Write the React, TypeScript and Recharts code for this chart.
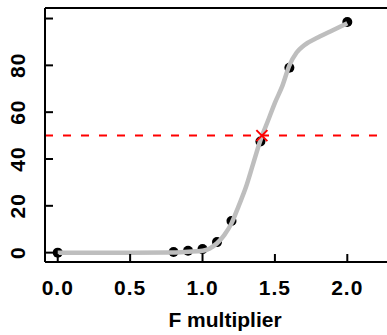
import { ComposedChart, Line, Scatter, XAxis, YAxis, ReferenceLine } from 'recharts';

// observed points (F multiplier vs %)
const obsX = [0, 0.8, 0.9, 1.0, 1.1, 1.2, 1.4, 1.6, 2.0];
const obsY = [0, 0.3, 0.8, 1.5, 4.5, 13.5, 47.5, 79, 98.5];

// fitted curve
const fitX = [0, 0.5, 0.8, 0.9, 1.0, 1.05, 1.1, 1.15, 1.2, 1.25, 1.3, 1.35, 1.4, 1.45, 1.5, 1.55, 1.6, 1.65, 1.7, 1.8, 1.9, 2.0];
const fitY = [0, 0, 0.1, 0.4, 0.8, 1.8, 4, 7.5, 12.5, 20, 28, 38, 48, 56, 64, 71, 80, 85.5, 88.5, 92, 95, 98];

const xTicks = [0, 0.5, 1, 1.5, 2];
const yTicks = [0, 20, 40, 60, 80, 100];
const yLabelled = [0, 20, 40, 60, 80];

const target = 50;
const targetX = 1.41;

const points = obsX.map((x, i) => ({ x, y: obsY[i] }));
const curve = fitX.map((x, i) => ({ x, y: fitY[i] }));
const cross = [{ x: targetX, y: target }];

const font = '"Liberation Sans", Arial, sans-serif';

const XTick = ({ x, y, payload }: any) => (
  <g>
    <line x1={x} x2={x} y1={y} y2={y - 8} stroke="#000" strokeWidth={2} />
    <text x={x} y={y + 33} textAnchor="middle" fontFamily={font} fontWeight="bold" fontSize={21} letterSpacing={1} fill="#000">
      {Number(payload.value).toFixed(1)}
    </text>
  </g>
);

const YTick = ({ x, y, payload }: any) => {
  const lx = x - 20;
  return (
    <g>
      <line x1={x} x2={x + 8} y1={y} y2={y} stroke="#000" strokeWidth={2} />
      {yLabelled.includes(payload.value) && (
        <text x={lx} y={y} transform={`rotate(-90 ${lx} ${y})`} textAnchor="middle" fontFamily={font} fontWeight="bold" fontSize={21} letterSpacing={1} fill="#000">
          {payload.value}
        </text>
      )}
    </g>
  );
};

const Dot = ({ cx, cy }: any) => <circle cx={cx} cy={cy} r={5} fill="#000" />;

const Cross = ({ cx, cy }: any) => (
  <g stroke="#ff0000" strokeWidth={2}>
    <line x1={cx - 5.5} y1={cy - 5.5} x2={cx + 5.5} y2={cy + 5.5} />
    <line x1={cx - 5.5} y1={cy + 5.5} x2={cx + 5.5} y2={cy - 5.5} />
  </g>
);

export default function App() {
  return (
    <div style={{ position: 'absolute', left: 0, top: 0, width: 387, height: 335, overflow: 'hidden', background: '#fff' }}>
      <ComposedChart width={392} height={335} margin={{ top: 8, right: 3, bottom: 0, left: 0 }}>
        <XAxis
          type="number"
          dataKey="x"
          domain={[-0.088, 2.288]}
          ticks={xTicks}
          allowDataOverflow
          height={73}
          axisLine={{ stroke: '#000', strokeWidth: 2 }}
          tickLine={false}
          tickSize={0}
          tickMargin={0}
          tick={<XTick />}
          label={{
            content: () => (
              <text x={225} y={327} textAnchor="middle" fontFamily={font} fontWeight="bold" fontSize={21} fill="#000">
                F multiplier
              </text>
            ),
          }}
        />
        <YAxis
          type="number"
          dataKey="y"
          domain={[-4, 104.5]}
          ticks={yTicks}
          allowDataOverflow
          width={45}
          axisLine={{ stroke: '#000', strokeWidth: 2 }}
          tickLine={false}
          tickSize={0}
          tickMargin={0}
          tick={<YTick />}
        />
        <ReferenceLine y={104.5} stroke="#000" strokeWidth={2} />
        <Scatter data={points} shape={<Dot />} isAnimationActive={false} zIndex={300} />
        <Line
          data={curve}
          dataKey="y"
          type="monotone"
          stroke="#bebebe"
          strokeWidth={4.5}
          dot={false}
          activeDot={false}
          isAnimationActive={false}
          zIndex={400}
        />
        <ReferenceLine y={target} stroke="#ff0000" strokeWidth={2} strokeDasharray="8 10" zIndex={450} />
        <Scatter data={cross} shape={<Cross />} isAnimationActive={false} zIndex={600} />
      </ComposedChart>
    </div>
  );
}
